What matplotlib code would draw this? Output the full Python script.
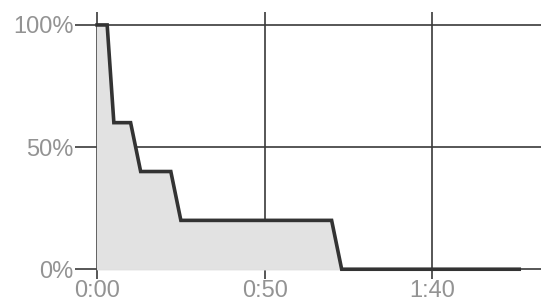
import matplotlib
matplotlib.use("Agg")
import matplotlib.pyplot as plt

# elapsed seconds vs. share still remaining (%)
seconds = [0, 3, 5, 10, 13, 22, 25, 70, 73, 126]
remaining = [100, 100, 60, 60, 40, 40, 20, 20, 0, 0]

tick_secs = [0, 50, 100]
tick_labels = ["0:00", "0:50", "1:40"]
pct_ticks = [0, 50, 100]
pct_labels = ["0%", "50%", "100%"]

plt.rcParams['font.family'] = ['Liberation Sans', 'DejaVu Sans']

fig = plt.figure(figsize=(5.41, 3.06), dpi=100)
ax = fig.add_axes([75 / 541, 1 - 279 / 306, 1 - 75 / 541, (279 - 12) / 306])

ax.set_xlim(-6.6, 132.5)
ax.set_ylim(-4, 105.3)

for v in pct_ticks:
    ax.axhline(v, color="#3a3a3a", lw=1.2, zorder=1)
for t in tick_secs:
    ax.axvline(t, color="#3a3a3a", lw=1.2, zorder=1)

ax.fill_between(seconds, remaining, 0, color="#e2e2e2", zorder=2)
ax.plot(seconds, remaining, color="#333333", lw=2.6, zorder=3,
        solid_joinstyle="miter")

ax.set_xticks(tick_secs)
ax.set_xticklabels(tick_labels)
ax.set_yticks(pct_ticks)
ax.set_yticklabels(pct_labels)
ax.tick_params(length=0, labelsize=17, colors="#939393", pad=1)
for s in ax.spines.values():
    s.set_visible(False)

fig.savefig("out.png", dpi=100)
